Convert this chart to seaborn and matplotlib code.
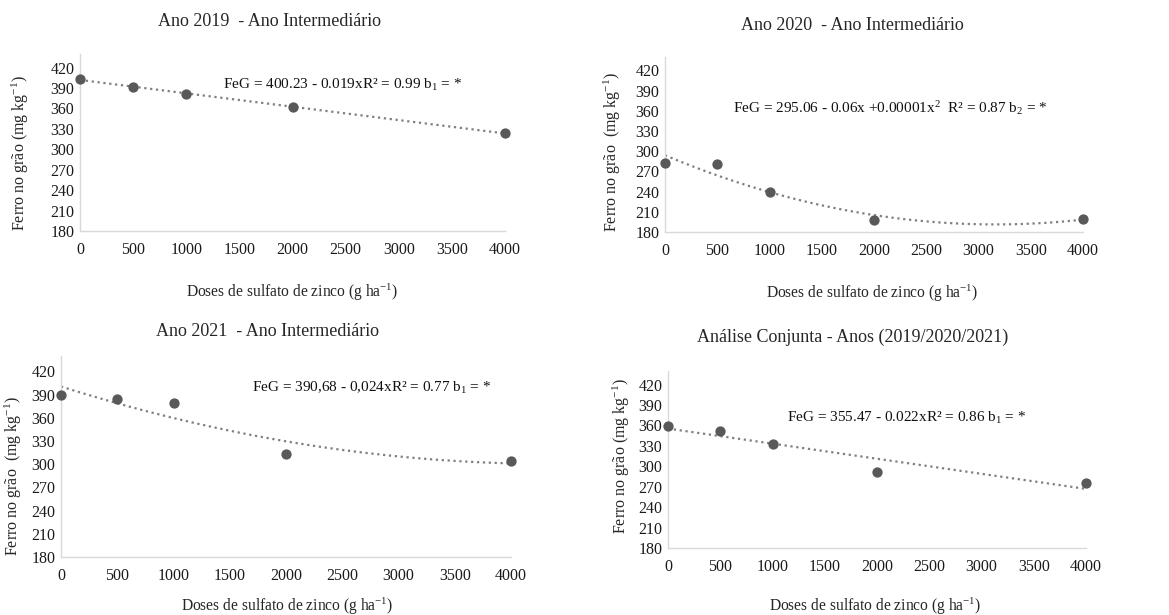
import numpy as np
import pandas as pd
import matplotlib
matplotlib.use("Agg")
import matplotlib.pyplot as plt
import seaborn as sns

# --- Data ---
doses = [0, 500, 1000, 2000, 4000]
fe_2019 = [404, 391, 381, 362, 324]
fe_2020 = [283, 281, 239, 198, 200]
fe_2021 = [390, 384, 379, 313, 304]
fe_conj = [359, 352, 333, 291, 276]

titles = ["Ano 2019  - Ano Intermediário", "Ano 2020  - Ano Intermediário",
          "Ano 2021  - Ano Intermediário", "Análise Conjunta - Anos (2019/2020/2021)"]
equations = [r"FeG = 400.23 - 0.019xR² = 0.99 b$_1$ = *",
             r"FeG = 295.06 - 0.06x +0.00001x$^2$  R² = 0.87 b$_2$ = *",
             r"FeG = 390,68 - 0,024xR² = 0.77 b$_1$ = *",
             r"FeG = 355.47 - 0.022xR² = 0.86 b$_1$ = *"]
orders = [1, 2, 2, 1]
y_ticks = [180, 210, 240, 270, 300, 330, 360, 390, 420]
x_ticks = [0, 500, 1000, 1500, 2000, 2500, 3000, 3500, 4000]

W, H = 1169, 615

sns.set_theme(style="white")
plt.rcParams["font.family"] = ["Liberation Serif", "DejaVu Serif"]
plt.rcParams["mathtext.fontset"] = "custom"
plt.rcParams["mathtext.rm"] = "Liberation Serif"
plt.rcParams["mathtext.it"] = "Liberation Serif:italic"

fig = plt.figure(figsize=(W / 100, H / 100), dpi=100)
fig.patch.set_facecolor("white")

# axes boxes in pixels: left, right, top, bottom
boxes = [(80, 505, 54, 231), (665, 1083, 57, 232),
         (61, 511, 356, 557), (668, 1086, 371, 548)]
title_pos = [(269, 22), (852, 25), (267, 332), (853, 337)]
xlab_pos = [(292, 292), (872, 293), (287, 606), (875, 606)]
ylab_pos = [(20, 153), (612, 152), (13, 476), (621, 456)]
ylab_txt = [r"Ferro no grão (mg kg$^{\mathrm{-1}}$)", r"Ferro no grão  (mg kg$^{\mathrm{-1}}$)",
            r"Ferro no grão  (mg kg$^{\mathrm{-1}}$)", r"Ferro no grão (mg kg$^{\mathrm{-1}}$)"]
eq_pos = [(1346, 395), (651, 364), (1699, 399), (1139, 371)]

series = [fe_2019, fe_2020, fe_2021, fe_conj]
dot_color = "#595959"

for i, vals in enumerate(series):
    l, r, t, b = boxes[i]
    ax = fig.add_axes([l / W, 1 - b / H, (r - l) / W, (b - t) / H])
    df = pd.DataFrame({"dose": doses, "fe": vals})
    sns.regplot(data=df, x="dose", y="fe", ax=ax, order=orders[i], ci=None,
                scatter_kws={"s": 55, "color": dot_color, "alpha": 1, "linewidths": 0,
                             "clip_on": False, "zorder": 3},
                line_kws={"color": "#7f7f7f", "linestyle": ":", "linewidth": 1.6})
    ax.set_xlim(0, 4000)
    ax.set_ylim(180, 440)
    ax.set_xticks(x_ticks)
    ax.set_yticks(y_ticks)
    ax.set_xlabel("")
    ax.set_ylabel("")
    ax.tick_params(axis="both", length=0, labelsize=11.5, colors="#1a1a1a", pad=8)
    ax.tick_params(axis="y", pad=4)
    for s in ["top", "right"]:
        ax.spines[s].set_visible(False)
    for s in ["left", "bottom"]:
        ax.spines[s].set_color("#d9d9d9")
        ax.spines[s].set_linewidth(1)
    ax.text(eq_pos[i][0], eq_pos[i][1], equations[i], fontsize=11,
            ha="left", va="center", color="#111111")

    fig.text(title_pos[i][0] / W, 1 - title_pos[i][1] / H, titles[i],
             fontsize=13, ha="center", va="center")
    fig.text(xlab_pos[i][0] / W, 1 - xlab_pos[i][1] / H,
             r"Doses de sulfato de zinco (g ha$^{\mathrm{-1}}$)",
             fontsize=11.2, ha="center", va="center")
    fig.text(ylab_pos[i][0] / W, 1 - ylab_pos[i][1] / H, ylab_txt[i],
             fontsize=11.5, ha="center", va="center", rotation=90)

fig.savefig("out.png", dpi=100, facecolor="white")
